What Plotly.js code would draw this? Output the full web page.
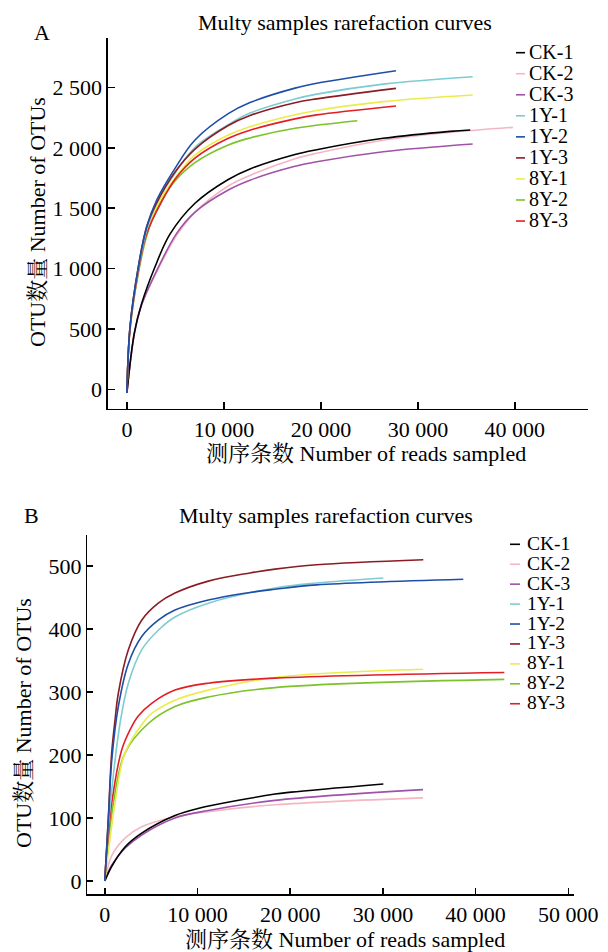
<!DOCTYPE html>
<html>
<head>
<meta charset="utf-8">
<script src="https://cdn.plot.ly/plotly-3.0.1.min.js"></script>
<style>html,body{margin:0;padding:0;background:#fff}#chart{width:608px;height:952px}</style>
</head>
<body>
<div id="chart"></div>
<script>
// ---------- series meta ----------
const seriesNames = ['CK-1','CK-2','CK-3','1Y-1','1Y-2','1Y-3','8Y-1','8Y-2','8Y-3'];
const seriesColors = ['#000000','#f5b6c3','#a052a8','#7ecbd2','#1f4ea8','#8b1c24','#ebeb4e','#7cc22a','#e31e24'];

// ---------- panel A (reads vs OTUs) ----------
const aX_CK1 = [0, 770, 1520, 2900, 4440, 7020, 10450, 12690, 17330, 19570, 26430, 33310, 35400];
const aY_CK1 = [-30, 470, 710, 1015, 1285, 1541, 1738, 1825, 1945, 1985, 2079, 2137, 2148];
const aX_CK2 = [0, 770, 1520, 3240, 5130, 7020, 10450, 12690, 17330, 19570, 26430, 33310, 39800];
const aY_CK2 = [-30, 460, 700, 1000, 1275, 1466, 1684, 1772, 1910, 1955, 2063, 2128, 2170];
const aX_CK3 = [0, 770, 1520, 3240, 5130, 7020, 10450, 12690, 17330, 19570, 26430, 35650];
const aY_CK3 = [-30, 460, 700, 1010, 1292, 1468, 1651, 1732, 1847, 1885, 1968, 2032];
const aX_1Y1 = [0, 320, 1180, 2040, 3070, 4960, 7020, 10450, 12690, 17330, 19570, 26430, 35650];
const aY_1Y1 = [-30, 510, 1000, 1320, 1545, 1790, 2005, 2192, 2288, 2405, 2445, 2528, 2589];
const aX_1Y2 = [0, 320, 1180, 2040, 3070, 4960, 7020, 10450, 12690, 17330, 19570, 27740];
const aY_1Y2 = [-30, 518, 1015, 1347, 1568, 1830, 2065, 2283, 2375, 2495, 2535, 2639];
const aX_1Y3 = [0, 320, 1180, 2040, 3070, 4960, 7020, 10450, 12690, 17330, 19570, 27740];
const aY_1Y3 = [-30, 518, 1015, 1347, 1545, 1800, 1990, 2185, 2268, 2374, 2406, 2493];
const aX_8Y1 = [0, 320, 1180, 2040, 3070, 4960, 7020, 10450, 12690, 17330, 19570, 26430, 35650];
const aY_8Y1 = [-30, 500, 985, 1300, 1520, 1750, 1940, 2106, 2175, 2274, 2310, 2383, 2438];
const aX_8Y2 = [0, 320, 1180, 2040, 3070, 4960, 7020, 10450, 12690, 17330, 23750];
const aY_8Y2 = [-30, 490, 960, 1270, 1490, 1725, 1878, 2024, 2082, 2162, 2225];
const aX_8Y3 = [0, 320, 1180, 2040, 3590, 4960, 7020, 10450, 12690, 17330, 19570, 27740];
const aY_8Y3 = [-30, 500, 980, 1290, 1555, 1740, 1915, 2079, 2146, 2240, 2273, 2347];

// ---------- panel B ----------
const bX_CK1 = [0, 740, 2180, 3980, 7570, 10040, 18360, 20090, 30050];
const bY_CK1 = [0, 23, 54, 76, 104, 115, 138, 141, 154];
const bX_CK2 = [0, 740, 2180, 3980, 7570, 11170, 18360, 34330];
const bY_CK2 = [0, 40, 68, 86, 102, 110, 121, 132];
const bX_CK3 = [0, 740, 2180, 3980, 7570, 11170, 18360, 34330];
const bY_CK3 = [0, 25, 52, 73, 100, 112, 128, 145];
const bX_1Y1 = [0, 400, 900, 1640, 2540, 3980, 5770, 7570, 11170, 18360, 22860, 30040];
const bY_1Y1 = [0, 90, 165, 250, 314, 367, 398, 419, 441, 465, 473, 481];
const bX_1Y2 = [0, 380, 740, 1460, 2540, 3980, 5770, 7570, 11170, 15660, 18360, 22860, 38670];
const bY_1Y2 = [0, 97, 190, 277, 345, 388, 414, 430, 446, 458, 463, 470, 479];
const bX_1Y3 = [0, 380, 740, 1100, 1460, 2540, 3980, 5770, 7570, 11170, 15660, 18360, 22860, 34360];
const bY_1Y3 = [0, 100, 203, 255, 298, 367, 414, 441, 457, 476, 489, 495, 502, 510];
const bX_8Y1 = [0, 1100, 2170, 4340, 5060, 7570, 11170, 18360, 34320];
const bY_8Y1 = [0, 123, 203, 255, 266, 287, 303, 323, 336];
const bX_8Y2 = [0, 920, 2170, 4690, 7570, 11170, 18360, 43100];
const bY_8Y2 = [0, 123, 203, 250, 277, 292, 307, 320];
const bX_8Y3 = [0, 200, 740, 1820, 2720, 3610, 5060, 7570, 11170, 18360, 43100];
const bY_8Y3 = [0, 44, 123, 208, 240, 262, 282, 303, 314, 322, 331];

// ---------- ticks / texts ----------
const aXTicks = [0, 10000, 20000, 30000, 40000];
const aXTickText = ['0', '10 000', '20 000', '30 000', '40 000'];
const aYTicks = [0, 500, 1000, 1500, 2000, 2500];
const aYTickText = ['0', '500', '1 000', '1 500', '2 000', '2 500'];
const bXTicks = [0, 10000, 20000, 30000, 40000, 50000];
const bXTickText = ['0', '10 000', '20 000', '30 000', '40 000', '50 000'];
const bYTicks = [0, 100, 200, 300, 400, 500];
const bYTickText = ['0', '100', '200', '300', '400', '500'];
const chartTitle = 'Multy samples rarefaction curves';
const xTitle = '测序条数 Number of reads sampled';
const yTitle = 'OTU数量 Number of OTUs';

const aXs = [aX_CK1, aX_CK2, aX_CK3, aX_1Y1, aX_1Y2, aX_1Y3, aX_8Y1, aX_8Y2, aX_8Y3];
const aYs = [aY_CK1, aY_CK2, aY_CK3, aY_1Y1, aY_1Y2, aY_1Y3, aY_8Y1, aY_8Y2, aY_8Y3];
const bXs = [bX_CK1, bX_CK2, bX_CK3, bX_1Y1, bX_1Y2, bX_1Y3, bX_8Y1, bX_8Y2, bX_8Y3];
const bYs = [bY_CK1, bY_CK2, bY_CK3, bY_1Y1, bY_1Y2, bY_1Y3, bY_8Y1, bY_8Y2, bY_8Y3];

const FONT = "'Liberation Serif', 'Times New Roman', 'Noto Serif CJK SC', 'Noto Sans CJK SC', serif";
const W = 608, H = 952;
const px = v => v / W;
const py = v => 1 - v / H;

const traces = [];
const order = [1, 2, 0, 7, 6, 8, 3, 5, 4];
order.forEach(i => {
  traces.push({x: aXs[i], y: aYs[i], xaxis: 'x', yaxis: 'y', name: seriesNames[i], type: 'scatter', mode: 'lines',
    line: {color: seriesColors[i], width: 1.6, shape: 'spline', smoothing: 1}, showlegend: false, hoverinfo: 'skip'});
});
order.forEach(i => {
  traces.push({x: bXs[i], y: bYs[i], xaxis: 'x2', yaxis: 'y2', name: seriesNames[i], type: 'scatter', mode: 'lines',
    line: {color: seriesColors[i], width: 1.6, shape: 'spline', smoothing: 1}, showlegend: false, hoverinfo: 'skip'});
});

const axisBase = {
  showline: true, linecolor: '#000', linewidth: 1.5, showgrid: false, zeroline: false,
  ticks: 'inside', ticklen: 7, tickwidth: 1.5, tickcolor: '#000',
  tickfont: {family: FONT, size: 22, color: '#000'}, tickmode: 'array', fixedrange: true
};

const annotations = [];
const shapes = [];
function txt(text, x, y, opts) {
  annotations.push(Object.assign({text: text, x: px(x), y: py(y), xref: 'paper', yref: 'paper', showarrow: false,
    xanchor: 'center', yanchor: 'middle', font: {family: FONT, size: 22, color: '#000'}}, opts || {}));
}
txt(chartTitle, 345, 22);
txt(chartTitle, 326, 515);
txt('A', 42, 33);
txt('B', 31, 515);
txt(xTitle, 366, 453);
txt(xTitle, 345, 939);
txt(yTitle, 37, 222, {textangle: -90});
txt(yTitle, 23, 723, {textangle: -90});

// legends: short coloured dash + name for each series
function legendRow(i, dashX0, dashX1, textX, rowY, size) {
  shapes.push({type: 'line', xref: 'paper', yref: 'paper', x0: px(dashX0), x1: px(dashX1), y0: py(rowY + 1), y1: py(rowY + 1),
    line: {color: seriesColors[i], width: 1.6}});
  txt(seriesNames[i], textX, rowY, {xanchor: 'left', font: {family: FONT, size: size, color: '#000'}});
}
seriesNames.forEach((n, i) => {
  legendRow(i, 516, 525, 527, 51.7 + 21.04 * i, 20);
  legendRow(i, 510, 520, 525, 543.3 + 19.93 * i, 19.5);
});

const layout = {
  width: W, height: H,
  margin: {l: 0, r: 0, t: 0, b: 0, pad: 0},
  paper_bgcolor: '#ffffff', plot_bgcolor: '#ffffff',
  showlegend: false,
  font: {family: FONT, size: 22, color: '#000'},
  xaxis: Object.assign({}, axisBase, {domain: [107.9 / W, 588 / W], range: [-1960, 47540], anchor: 'y',
    tickvals: aXTicks, ticktext: aXTickText}),
  yaxis: Object.assign({}, axisBase, {domain: [py(408.7), py(37.7)], range: [-160.7, 2912.6], anchor: 'x',
    tickvals: aYTicks, ticktext: aYTickText}),
  xaxis2: Object.assign({}, axisBase, {domain: [87.3 / W, 574.3 / W], range: [-1888, 50650], anchor: 'y2',
    ticklen: 6, tickvals: bXTicks, ticktext: bXTickText}),
  yaxis2: Object.assign({}, axisBase, {domain: [py(894.3), py(535)], range: [-21.1, 549.2], anchor: 'x2',
    ticklen: 6, tickvals: bYTicks, ticktext: bYTickText}),
  annotations: annotations,
  shapes: shapes
};

Plotly.newPlot('chart', traces, layout, {staticPlot: true, displayModeBar: false});
</script>
</body>
</html>
